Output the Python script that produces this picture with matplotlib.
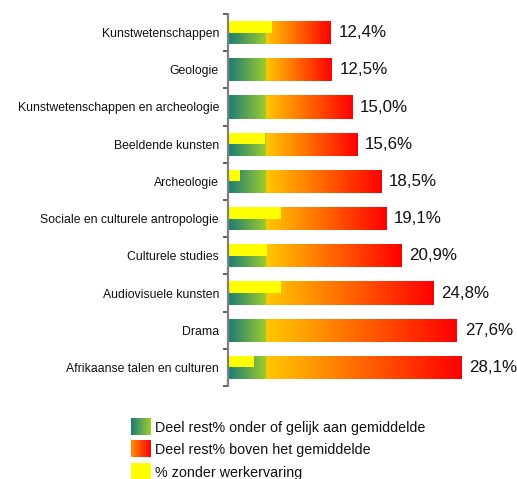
import numpy as np
import matplotlib
matplotlib.use("Agg")
import matplotlib.pyplot as plt
from matplotlib.colors import to_rgb

plt.rcParams['font.family'] = ['Liberation Sans', 'DejaVu Sans']

categories = [
    "Kunstwetenschappen",
    "Geologie",
    "Kunstwetenschappen en archeologie",
    "Beeldende kunsten",
    "Archeologie",
    "Sociale en culturele antropologie",
    "Culturele studies",
    "Audiovisuele kunsten",
    "Drama",
    "Afrikaanse talen en culturen",
]
total_rest = [12.4, 12.5, 15.0, 15.6, 18.5, 19.1, 20.9, 24.8, 27.6, 28.1]
below_avg = [4.6, 4.6, 4.6, 4.6, 4.6, 4.6, 4.6, 4.6, 4.6, 4.6]
no_experience = [5.3, 0.0, 0.0, 4.5, 1.5, 6.4, 4.7, 6.4, 0.0, 3.1]
legend_labels = [
    "Deel rest% onder of gelijk aan gemiddelde",
    "Deel rest% boven het gemiddelde",
    "% zonder werkervaring",
]

GREEN = ("#1b7b7b", "#9fce2a")
ORANGE = ("#ffc800", "#ff0000")
ORANGE_KEY = ("#ff9000", "#ff0000")
YELLOW = "#ffff00"


def gradient(c0, c1, n=256):
    a = np.array(to_rgb(c0))
    b = np.array(to_rgb(c1))
    t = np.linspace(0, 1, n)[:, None]
    return (a + (b - a) * t)[None, :, :]


def fill_gradient(ax, rect, c0, c1):
    x0, y0 = rect.get_x(), rect.get_y()
    w, h = rect.get_width(), rect.get_height()
    if w <= 0:
        return
    im = ax.imshow(gradient(c0, c1), extent=(x0, x0 + w, y0 + h, y0),
                   aspect='auto', interpolation='bilinear', zorder=2)
    im.set_clip_path(rect)


W, H = 517, 479
fig = plt.figure(figsize=(W / 100, H / 100), dpi=100)
ax = fig.add_axes([228 / W, (H - 386) / H, 249 / W, 372 / H])

y = np.arange(len(categories))
above_avg = [t - b for t, b in zip(total_rest, below_avg)]
bh = 0.62

low_bars = ax.barh(y, below_avg, height=bh, color='none', linewidth=0)
high_bars = ax.barh(y, above_avg, left=below_avg, height=bh,
                    color='none', linewidth=0)
for r in low_bars:
    fill_gradient(ax, r, *GREEN)
for r in high_bars:
    fill_gradient(ax, r, *ORANGE)

# yellow overlay on the upper half of each bar
ax.barh(y - bh / 4, no_experience, height=bh / 2, color=YELLOW,
        linewidth=0, zorder=3)

for yi, v in zip(y, total_rest):
    ax.annotate(f"{v:.1f}%".replace('.', ','), (v, yi), xytext=(5.5, 0),
                textcoords='offset points', va='center', ha='left',
                fontsize=12.2, color='#111111', annotation_clip=False)

ax.set_xlim(0, 30)
ax.set_ylim(len(categories) - 0.5, -0.5)

ax.set_yticks(y)
ax.set_yticklabels(categories, fontsize=8.8, color='#111111')
ax.tick_params(axis='y', which='major', length=0, pad=6.5)
ax.set_yticks(np.arange(-0.5, len(categories)), minor=True)
ax.tick_params(axis='y', which='minor', length=3.5, width=1.2,
               color='#444444', direction='out')
ax.set_xticks([])
for s in ('top', 'right', 'bottom'):
    ax.spines[s].set_visible(False)
ax.spines['left'].set_color('#808080')
ax.spines['left'].set_linewidth(1.6)
ax.spines['left'].set_zorder(5)

# legend drawn in figure pixel coordinates
lax = fig.add_axes([0, 0, 1, 1], facecolor='none')
keys = [GREEN, ORANGE_KEY, (YELLOW, YELLOW)]
tops = [418, 440, 463]
for (c0, c1), top, lab in zip(keys, tops, legend_labels):
    lax.imshow(gradient(c0, c1), extent=(131, 151, top + 17, top),
               aspect='auto', interpolation='bilinear')
    lax.text(155, top + 10, lab, fontsize=10.3, va='center', ha='left',
             color='#111111')
lax.set_xlim(0, W)
lax.set_ylim(H, 0)
lax.axis('off')

fig.savefig("out.png", dpi=100)
